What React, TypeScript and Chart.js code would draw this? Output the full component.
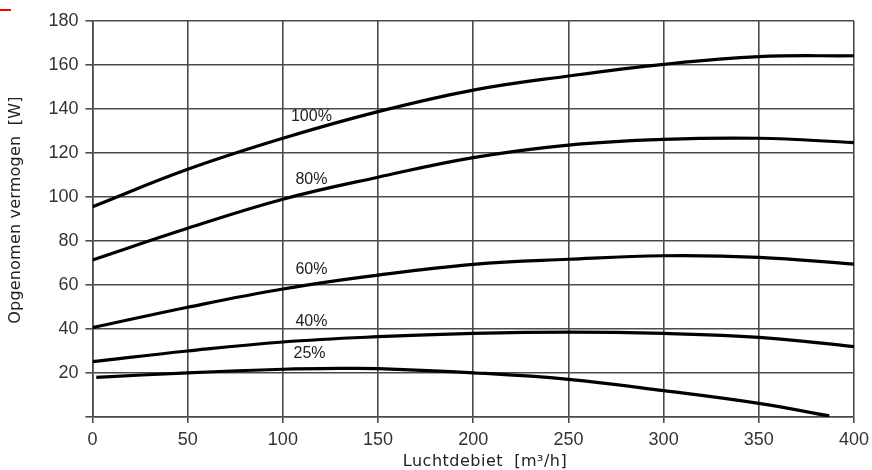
import React, { useEffect, useRef } from "react";
import { Chart, registerables } from "chart.js";

Chart.register(...registerables);

const xFlow = [0, 50, 100, 150, 200, 250, 300, 350, 400];
const power100 = [95.6, 112.6, 126.7, 138.8, 148.6, 155, 160.3, 163.8, 164.2];
const power80 = [71.4, 85.8, 99, 109, 117.9, 123.6, 126.2, 126.7, 124.7];
const power60 = [40.6, 49.9, 58.2, 64.5, 69.4, 71.7, 73.3, 72.6, 69.5];
const power40 = [25.2, 30, 34.1, 36.5, 38, 38.6, 38, 36.2, 32];
const xFlow25 = [2, 50, 100, 130, 150, 200, 250, 300, 350, 387];
const power25 = [18, 20.1, 21.7, 22.1, 22, 20.1, 17.1, 12, 6.2, 0.5];

const curveLabels = ["100%", "80%", "60%", "40%", "25%"];
const labelX = [115, 115, 115, 115, 114];
const labelY = [136.4, 108, 66.8, 43.2, 28.6];

const yTicks = [20, 40, 60, 80, 100, 120, 140, 160, 180];
const xTitle = "Luchtdebiet  [m³/h]";
const yTitle = "Opgenomen vermogen  [W]";

const toPts = (xs: number[], ys: number[]) => xs.map((x, i) => ({ x, y: ys[i] }));

const labelPlugin = {
  id: "curveLabels",
  afterDatasetsDraw(chart: any) {
    const { ctx, scales, chartArea } = chart;
    ctx.save();
    ctx.fillStyle = "#222";
    ctx.font = "16px 'Liberation Sans', Arial, sans-serif";
    ctx.textAlign = "center";
    ctx.textBaseline = "middle";
    curveLabels.forEach((t, i) => {
      ctx.fillText(t, scales.x.getPixelForValue(labelX[i]), scales.y.getPixelForValue(labelY[i]));
    });
    ctx.fillStyle = "#222";
    ctx.font = "16px 'DejaVu Sans', sans-serif";
    (ctx as any).letterSpacing = "0.5px";
    ctx.fillText(xTitle, 485, chartArea.bottom + 45);
    ctx.save();
    ctx.translate(16, 210);
    ctx.rotate(-Math.PI / 2);
    (ctx as any).letterSpacing = "0.2px";
    ctx.fillText(yTitle, 0, 0);
    ctx.restore();
    ctx.restore();
  },
};

export default function App() {
  const ref = useRef<HTMLCanvasElement>(null);
  useEffect(() => {
    if (!ref.current) return;
    const ds = (xs: number[], ys: number[]) => ({
      data: toPts(xs, ys),
      borderColor: "#000",
      borderWidth: 3.2,
      pointRadius: 0,
      tension: 0.4,
      fill: false,
    });
    const chart = new Chart(ref.current, {
      type: "line",
      data: {
        datasets: [
          ds(xFlow, power100),
          ds(xFlow, power80),
          ds(xFlow, power60),
          ds(xFlow, power40),
          ds(xFlow25, power25),
        ],
      },
      options: {
        animation: false,
        responsive: false,
        layout: { padding: { top: 21, right: 18, bottom: 0, left: 0 } },
        plugins: { legend: { display: false }, tooltip: { enabled: false } },
        scales: {
          x: {
            type: "linear",
            min: 0,
            max: 400,
            afterFit(s: any) {
              s.height = 53;
              s.paddingRight = 0;
              s.paddingLeft = 0;
            },
            ticks: {
              stepSize: 50,
              color: "#333",
              padding: 6,
              font: { size: 18, family: "'Liberation Sans', Arial, sans-serif" },
            },
            grid: { color: "#4a4a4a", lineWidth: 1.6, tickLength: 6 },
            border: { color: "#4a4a4a", width: 1.6 },
          },
          y: {
            type: "linear",
            min: 0,
            max: 180,
            afterFit(s: any) {
              s.width = 92.5;
              s.paddingTop = 0;
              s.paddingBottom = 0;
            },
            afterBuildTicks(s: any) {
              s.ticks = [0, ...yTicks].map((v) => ({ value: v }));
            },
            ticks: {
              color: "#333",
              padding: 7,
              font: { size: 18, family: "'Liberation Sans', Arial, sans-serif" },
              callback: (v: any) => (v === 0 ? "" : String(v)),
            },
            grid: { color: "#4a4a4a", lineWidth: 1.6, tickLength: 7 },
            border: { color: "#4a4a4a", width: 1.6 },
          },
        },
      },
      plugins: [labelPlugin],
    });
    return () => chart.destroy();
  }, []);
  return (
    <div style={{ position: "absolute", left: 0, top: 0, width: 872, height: 470, background: "#fff" }}>
      <div style={{ position: "absolute", left: 0, top: 9, width: 11, height: 2, background: "#f00" }} />
      <canvas ref={ref} width={872} height={470} style={{ display: "block" }} />
    </div>
  );
}
